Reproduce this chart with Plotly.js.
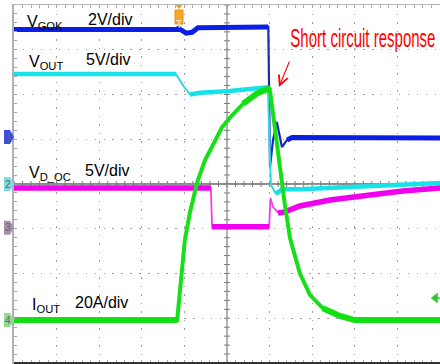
<!DOCTYPE html>
<html>
<head>
<meta charset="utf-8">
<script src="https://cdn.plot.ly/plotly-3.0.1.min.js"></script>
<style>
  html, body { margin: 0; padding: 0; background: #fff; }
  #scope { width: 440px; height: 364px; }
</style>
</head>
<body>
<div id="scope"></div>
<script>
// Time base: screen divisions (10 across), trigger near 3.87 div.
// CH1  V_GOK  (V)
const vgokT = [0, 3.80, 3.86, 4.04, 4.18, 4.32, 5.97, 6.01, 6.08, 6.17, 6.29, 6.41, 6.53, 10];
const vgok  = [4.80, 4.80, 4.86, 4.64, 4.68, 4.88, 4.92, -1.34, -0.13, 0.67, -0.45, -0.13, -0.02, -0.04];
// CH2  V_OUT  (V)
const voutT = [0, 3.80, 3.97, 4.13, 4.37, 5.07, 5.96, 6.03, 6.15, 6.29, 6.71, 8.36, 10];
const vout  = [12.3, 12.3, 11.0, 10.0, 10.2, 10.4, 10.8, -0.1, -1.1, -0.6, -0.6, -0.3, 0.1];
// CH3  V_D_OC (V)
const vdocT = [0, 4.62, 4.65, 5.99, 6.02, 6.08, 6.20, 6.36, 6.71, 7.42, 8.36, 9.13, 10];
const vdoc  = [4.46, 4.46, 0.11, 0.11, 3.34, 2.34, 1.67, 1.78, 2.45, 3.12, 3.68, 4.12, 4.46];
// CH4  I_OUT  (A)
const ioutT = [0, 3.83, 3.92, 4.01, 4.13, 4.30, 4.48, 4.72, 4.88, 5.07, 5.38, 5.70, 5.96, 6.01,
               6.10, 6.24, 6.36, 6.48, 6.71, 6.95, 7.25, 7.65, 8.00, 10];
const iout  = [0, 0, 17.8, 35.7, 48.1, 61.5, 71.3, 80.2, 86.0, 90.5, 96.7, 101.2, 103.4, 102.5,
               89.0, 67.7, 51.3, 36.5, 20.9, 11.1, 5.3, 1.8, 0, 0];

// Channel labels and vertical scale settings
const chNames  = ['V<sub>GOK</sub>', 'V<sub>OUT</sub>', 'V<sub>D_OC</sub>', 'I<sub>OUT</sub>'];
const chScales = ['2V/div', '5V/div', '5V/div', '20A/div'];
const perDiv   = [2, 5, 5, 20];
const groundDiv = [1.05, 0, -0.98, -3.04];   // ground marker offset from screen centre, in div
const chColors = ['#0a1ee6', '#16e2e8', '#f000ec', '#12e012'];
const edgeColors = ['#1a28c0', '#30d8e0', '#f040e8', '#18e018'];
const tagColors = ['#3a4ee2', '#7edede', '#a890a8', '#8ede8e'];

const W = 440, H = 364;
const M = { l: 14, r: 0, t: 5, b: 1 };
const divW = (W - M.l - M.r) / 10;
const divH = (H - M.t - M.b) / 8;
const cy = M.t + 4 * divH;
// pixel helpers for decorations / labels
const dx = px => (px - M.l) / divW;
const dy = py => (cy - py) / divH;

const layout = {
  width: W, height: H,
  margin: M,
  paper_bgcolor: '#ffffff',
  plot_bgcolor: '#ffffff',
  showlegend: false,
  font: { family: 'Liberation Sans, Arial, sans-serif', size: 16, color: '#000' },
  xaxis: {
    range: [0, 10], dtick: 1, showgrid: true, gridcolor: '#a0a0a0', gridwidth: 1,
    griddash: '1.5px,7px', zeroline: false, showticklabels: false,
    showline: true, linecolor: '#b4b4b4', linewidth: 1.5, mirror: 'allticks',
    ticks: 'inside', ticklen: 3, tickcolor: '#a0a0a0',
    minor: { dtick: 0.2, ticks: 'inside', ticklen: 3, tickcolor: '#a8a8a8', showgrid: false },
    fixedrange: true
  },
  yaxis: {
    range: [-4, 4], dtick: 1, showgrid: true, gridcolor: '#a0a0a0', gridwidth: 1,
    griddash: '1.5px,7.45px', zeroline: false, showticklabels: false,
    showline: true, linecolor: '#b0b0b0', linewidth: 2,
    ticks: 'inside', ticklen: 3, tickcolor: '#a0a0a0',
    minor: { dtick: 0.2, ticks: 'inside', ticklen: 3, tickcolor: '#a8a8a8', showgrid: false },
    fixedrange: true
  },
  shapes: [],
  annotations: []
};

// one hidden overlaying y axis per channel, in that channel's own units
perDiv.forEach((s, i) => {
  const g = groundDiv[i];
  layout['yaxis' + (i + 2)] = {
    overlaying: 'y', visible: false, fixedrange: true,
    range: [(-4 - g) * s, (4 - g) * s]
  };
});

// centre cross-hair with fine ticks
layout.shapes.push({ type: 'line', xref: 'paper', yref: 'y', x0: 0, x1: 1, y0: 0, y1: 0,
  line: { color: '#666666', width: 1.4 }, layer: 'below' });
layout.shapes.push({ type: 'line', xref: 'x', yref: 'paper', x0: 5, x1: 5, y0: 0, y1: 1,
  line: { color: '#8a8a8a', width: 1.3 }, layer: 'below' });
for (let k = 0; k <= 50; k++) {
  layout.shapes.push({ type: 'line', xref: 'x', yref: 'y', ysizemode: 'pixel', yanchor: 0,
    x0: k * 0.2, x1: k * 0.2, y0: -3, y1: 3, line: { color: '#7a7a7a', width: 1 }, layer: 'below' });
}
for (let k = 0; k <= 40; k++) {
  layout.shapes.push({ type: 'line', xref: 'x', yref: 'y', xsizemode: 'pixel', xanchor: 5,
    x0: -3, x1: 3, y0: -4 + k * 0.2, y1: -4 + k * 0.2, line: { color: '#7a7a7a', width: 1 }, layer: 'below' });
}
// darker bottom frame
layout.shapes.push({ type: 'line', xref: 'paper', yref: 'paper', x0: 0, x1: 1, y0: 0, y1: 0,
  line: { color: '#333333', width: 2 } });

// channel ground tags on the left edge
perDiv.forEach((s, i) => {
  layout.shapes.push({
    type: 'path', xref: 'paper', yref: 'y' + (i + 2),
    xsizemode: 'pixel', xanchor: 0, ysizemode: 'pixel', yanchor: 0,
    path: 'M-10,7 L-4,7 L0,0 L-4,-7 L-10,-7 Z',
    fillcolor: tagColors[i], line: { width: 0 }
  });
  layout.annotations.push({
    xref: 'paper', yref: 'y' + (i + 2), x: -6 / (W - M.l), y: 0,
    text: String(i + 1), showarrow: false, xanchor: 'center', yanchor: 'middle',
    font: { size: 10, color: '#606070' }
  });
});

// trigger tag at the top
const trigT = dx(179);
layout.shapes.push({ type: 'path', xref: 'x', yref: 'paper', xsizemode: 'pixel', xanchor: trigT,
  ysizemode: 'pixel', yanchor: 1, path: 'M-3.5,0 L3.5,0 L0,-4 Z',
  fillcolor: '#f5a020', line: { width: 0 } });
layout.shapes.push({ type: 'rect', xref: 'x', yref: 'paper', xsizemode: 'pixel', xanchor: trigT,
  ysizemode: 'pixel', yanchor: 1, x0: -4, x1: 4, y0: -19, y1: -5,
  fillcolor: '#f7a52a', line: { color: '#f09010', width: 1 } });
layout.annotations.push({ xref: 'x', yref: 'paper', x: trigT, y: 1, yshift: -12,
  text: 'T', showarrow: false, font: { size: 10, color: '#fff2cc' } });

// small marker on the right edge
layout.shapes.push({ type: 'path', xref: 'paper', yref: 'y', xsizemode: 'pixel', xanchor: 1,
  ysizemode: 'pixel', yanchor: dy(298), path: 'M-8,0 L-3,4 L-3,-4 Z M-3,0 L0,0',
  fillcolor: '#2ec82e', line: { color: '#2ec82e', width: 1.5 } });

// channel labels
const nameX = [25, 27, 27, 30];
const scaleX = [86, 84, 83, 73];
const labelY = [19, 59.5, 170, 302.5];
chNames.forEach((n, i) => {
  layout.annotations.push({ xref: 'x', yref: 'y', x: dx(nameX[i]), y: dy(labelY[i]),
    xanchor: 'left', yanchor: 'middle', yshift: -3, text: n, showarrow: false,
    font: { size: 16, color: '#000' } });
  layout.annotations.push({ xref: 'x', yref: 'y', x: dx(scaleX[i]), y: dy(labelY[i]),
    xanchor: 'left', yanchor: 'middle', text: chScales[i], showarrow: false,
    font: { size: 16, color: '#000' } });
});

// callout, set in a tall condensed face
const CALLOUT = 'Short circuit response';
const CALLOUT_SIZE = 25;
const CALLOUT_SQUEEZE = 0.6;
layout.annotations.push({ xref: 'x', yref: 'y', x: dx(362.5), y: dy(37.5),
  xanchor: 'center', yanchor: 'middle', text: CALLOUT, showarrow: false,
  font: { size: CALLOUT_SIZE, color: '#ff0000', family: 'Liberation Sans, Arial, sans-serif' } });
layout.annotations.push({ xref: 'x', yref: 'y', x: dx(279), y: dy(87), ax: 11, ay: -27,
  text: '', showarrow: true, arrowhead: 5, arrowsize: 1.7, arrowwidth: 1.1,
  arrowcolor: '#ff0000', standoff: 0 });

// Noisy scope traces look thick where the signal is slow and thin on fast edges:
// a thick line over the gentle segments, a thin one over the whole record.
function gentleOnly(t, v, s) {
  const X = [], Y = [];
  for (let i = 0; i < t.length; i++) {
    if (i > 0) {
      const run = (t[i] - t[i - 1]) * divW;
      const rise = Math.abs(v[i] - v[i - 1]) / s * divH;
      if (rise > 1.0 * run) { X.push(null); Y.push(null); }
    }
    X.push(t[i]); Y.push(v[i]);
  }
  return [X, Y];
}

const chData = [
  { t: vgokT, v: vgok, ch: 0, thick: 5, thin: 2.2 },
  { t: voutT, v: vout, ch: 1, thick: 4.5, thin: 2 },
  { t: vdocT, v: vdoc, ch: 2, thick: 5.5, thin: 1.8 },
  { t: ioutT, v: iout, ch: 3, thick: 6, thin: 4 }
];
// drawing order: D_OC, OUT, GOK, I_OUT on top
const order = [2, 1, 0, 3];
const traces = [];
order.forEach(k => {
  const d = chData[k];
  const ya = 'y' + (d.ch + 2);
  const [gx, gy] = gentleOnly(d.t, d.v, perDiv[d.ch]);
  traces.push({ type: 'scatter', mode: 'lines', x: d.t, y: d.v, xaxis: 'x', yaxis: ya,
    line: { color: edgeColors[d.ch], width: d.thin }, hoverinfo: 'skip' });
  traces.push({ type: 'scatter', mode: 'lines', x: gx, y: gy, xaxis: 'x', yaxis: ya,
    connectgaps: false, line: { color: chColors[d.ch], width: d.thick }, hoverinfo: 'skip' });
});

Plotly.newPlot('scope', traces, layout, { staticPlot: true, displayModeBar: false }).then(gd => {
  // squeeze the callout horizontally about its own centre
  gd.querySelectorAll('.annotation-text').forEach(el => {
    if (el.textContent === CALLOUT) {
      const b = el.getBBox();
      const cx = b.x + b.width / 2;
      el.setAttribute('transform',
        'translate(' + cx + ',0) scale(' + CALLOUT_SQUEEZE + ',1) translate(' + (-cx) + ',0)');
      const bg = el.parentNode.querySelector('rect.bg');
      if (bg) {
        const w0 = parseFloat(bg.getAttribute('width'));
        const x0 = parseFloat(bg.getAttribute('x')) || 0;
        const w1 = w0 * CALLOUT_SQUEEZE;
        bg.setAttribute('x', x0 + (w0 - w1) / 2);
        bg.setAttribute('width', w1);
      }
    }
  });
});
</script>
</body>
</html>
